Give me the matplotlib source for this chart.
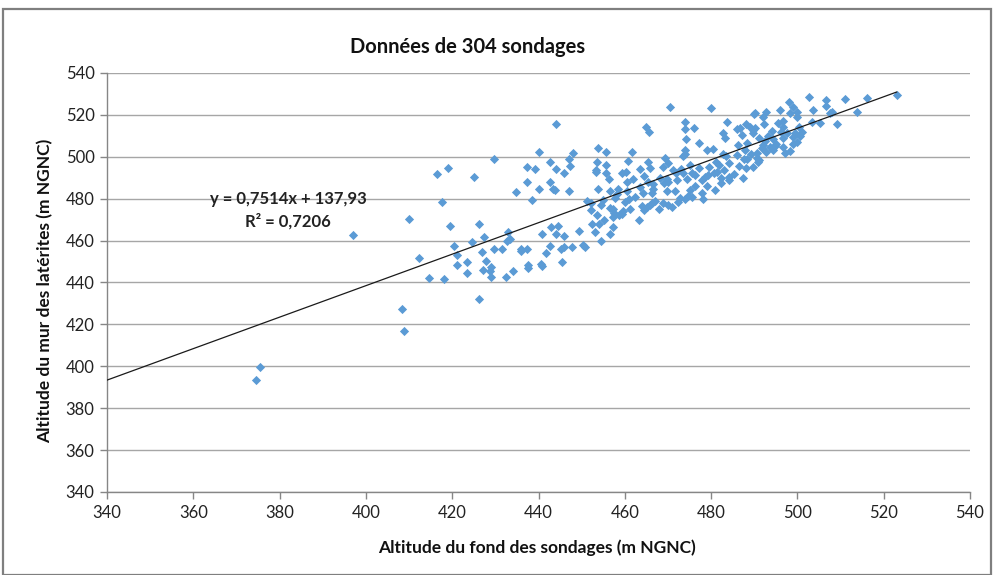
import matplotlib
matplotlib.use("Agg")
import matplotlib.pyplot as plt
from matplotlib.patches import Rectangle

plt.rcParams["font.family"] = ["Lato", "DejaVu Sans"]

# Borehole data: bottom altitude (x) vs laterite floor altitude (y), m NGNC
fond = [
    374.5, 375.5, 397.0, 408.3, 408.9, 410.1, 412.4, 414.7, 416.4, 417.6,
    418.2, 419.1, 419.6, 420.4, 421.2, 421.0, 423.4, 423.4, 424.7, 425.1,
    426.1, 426.3, 427.4, 427.0, 427.8, 427.2, 428.9, 428.8, 429.1, 429.7,
    429.8, 431.5, 432.4, 432.8, 433.4, 433.0, 434.2, 434.9, 435.9, 437.3,
    437.4, 437.4, 437.6, 437.6, 438.6, 439.2, 440.0, 440.2, 440.6, 440.9,
    440.7, 441.7, 442.6, 442.6, 442.6, 443.0, 443.3, 443.8, 444.0, 444.0,
    444.0, 444.6, 445.3, 445.4, 445.8, 446.0, 447.1, 447.1, 447.3, 447.8,
    448.1, 449.4, 450.8, 451.3, 452.2, 452.2, 452.5, 453.1, 453.5, 453.4,
    453.4, 453.5, 453.7, 453.9, 454.1, 454.6, 455.6, 455.6, 455.6, 455.0,
    456.4, 456.6, 456.6, 457.2, 457.2, 457.5, 457.7, 458.1, 458.5, 458.7,
    459.3, 459.5, 460.0, 460.2, 460.6, 460.6, 460.8, 461.7, 462.0, 463.5,
    463.5, 463.9, 464.3, 464.5, 464.5, 465.0, 465.7, 465.4, 465.3, 465.1,
    465.8, 465.8, 466.5, 466.6, 466.2, 468.2, 468.8, 468.8, 469.0, 469.3,
    469.7, 469.7, 470.1, 470.1, 470.1, 470.5, 470.9, 471.2, 471.6, 471.9,
    472.0, 472.8, 473.0, 473.5, 473.5, 474.0, 474.0, 474.0, 474.0, 474.0,
    474.2, 474.3, 475.1, 475.2, 475.5, 475.5, 476.1, 476.3, 477.3, 477.3,
    477.8, 477.8, 478.6, 479.0, 479.3, 479.6, 479.9, 480.5, 480.7, 481.2,
    481.4, 481.9, 482.2, 482.4, 482.7, 482.7, 483.2, 483.4, 483.6, 484.2,
    484.2, 484.2, 485.9, 486.3, 486.5, 486.7, 487.1, 487.3, 487.9, 488.2,
    488.2, 488.3, 489.0, 489.6, 489.8, 489.8, 490.0, 490.2, 490.2, 490.6,
    490.6, 490.9, 491.0, 491.7, 492.1, 492.1, 492.3, 492.5, 492.7, 492.7,
    493.7, 494.0, 494.4, 494.4, 495.6, 495.9, 496.3, 496.6, 496.7, 496.7,
    496.7, 497.5, 498.1, 498.3, 499.0, 499.0, 499.0, 499.4, 499.8, 499.8,
    499.8, 502.8, 503.3, 503.7, 505.2, 506.6, 506.6, 507.5, 508.0, 509.2,
    511.0, 513.9, 516.1, 523.0, 457.3, 459.3, 454.6, 456.6, 446.0, 436.0,
    461.2, 462.4, 467.0, 476.2, 478.2, 479.1, 481.0, 485.2, 486.0, 488.4,
    491.2, 493.2, 495.1, 497.2, 500.3, 501.0, 498.2, 466.2, 463.2, 468.0,
    472.4, 474.6, 483.0, 487.6, 489.2, 494.8, 500.6, 450.2, 455.2, 461.0,
]
mur = [
    393.5, 399.5, 462.5, 427.5, 417.0, 470.3, 451.8, 442.0, 491.8, 478.6,
    441.7, 494.5, 467.0, 457.4, 453.3, 448.4, 449.6, 444.7, 459.5, 490.2,
    432.3, 467.9, 461.9, 454.4, 450.3, 446.0, 447.3, 445.5, 442.5, 456.0,
    499.0, 456.0, 442.5, 460.0, 460.6, 464.3, 445.5, 483.3, 456.0, 456.0,
    495.0, 488.1, 448.4, 446.8, 479.2, 494.3, 502.4, 484.6, 448.7, 447.7,
    463.2, 453.9, 457.6, 497.7, 488.1, 466.3, 484.6, 484.2, 515.5, 494.3,
    463.2, 467.0, 456.0, 449.6, 492.3, 462.2, 498.8, 483.5, 495.6, 456.8,
    501.7, 464.7, 456.8, 479.1, 477.8, 474.6, 467.8, 464.3, 472.1, 493.7,
    492.6, 497.7, 504.1, 484.6, 467.9, 460.0, 502.1, 496.1, 492.4, 479.4,
    489.4, 483.8, 463.0, 466.3, 474.9, 473.0, 480.2, 482.2, 484.6, 472.2,
    492.1, 474.1, 478.6, 492.6, 483.8, 488.1, 498.1, 502.1, 489.3, 494.2,
    485.7, 476.5, 482.9, 490.8, 474.6, 514.1, 512.0, 488.1, 497.7, 476.2,
    477.0, 494.5, 487.0, 484.5, 482.6, 489.7, 495.3, 477.8, 487.3, 499.3,
    489.3, 483.8, 497.2, 488.1, 477.0, 523.9, 476.2, 493.7, 483.8, 492.1,
    488.9, 480.2, 494.0, 500.4, 492.1, 516.5, 513.3, 503.2, 501.2, 479.7,
    508.3, 489.3, 484.2, 496.1, 492.4, 481.0, 513.9, 491.3, 506.7, 494.8,
    488.9, 482.6, 490.2, 503.2, 491.3, 495.3, 523.1, 503.6, 492.1, 497.7,
    492.9, 496.1, 490.0, 487.3, 511.5, 501.3, 508.8, 500.4, 516.8, 497.2,
    490.5, 489.0, 513.1, 505.6, 495.6, 513.9, 510.4, 489.7, 503.2, 515.5,
    494.5, 506.4, 514.4, 511.2, 512.8, 495.0, 520.4, 513.9, 520.8, 501.7,
    499.3, 497.7, 498.5, 504.1, 519.2, 505.6, 515.7, 507.7, 521.6, 502.4,
    504.8, 512.5, 508.3, 503.2, 516.0, 522.3, 512.0, 508.8, 517.1, 514.4,
    504.8, 511.5, 526.3, 520.8, 524.0, 509.6, 506.1, 511.5, 521.6, 518.8,
    507.2, 528.4, 516.8, 522.3, 516.0, 527.1, 524.2, 520.8, 521.6, 515.5,
    527.4, 521.6, 527.9, 529.5, 471.4, 472.7, 477.0, 475.4, 457.0, 455.0,
    475.0, 481.0, 479.0, 486.0, 480.0, 486.0, 484.0, 492.0, 501.0, 499.0,
    509.0, 510.0, 506.0, 502.0, 514.0, 512.0, 503.0, 478.0, 470.0, 475.0,
    478.5, 481.5, 493.5, 499.0, 501.5, 505.0, 510.0, 458.0, 470.0, 480.0,
]

# Linear trend reported on the chart
slope = 0.7514
intercept = 137.93
r2 = 0.7206

x_ticks = [340, 360, 380, 400, 420, 440, 460, 480, 500, 520, 540]
y_ticks = [340, 360, 380, 400, 420, 440, 460, 480, 500, 520, 540]

W, H = 993, 575
fig = plt.figure(figsize=(W / 100, H / 100), dpi=100)
fig.patch.set_facecolor("white")

# chart frame
fig.patches.append(Rectangle((3 / W, 0), (W - 5) / W, (H - 9) / H,
                             transform=fig.transFigure, fill=False,
                             edgecolor="#7f7f7f", linewidth=1.6, zorder=0))

ax = fig.add_axes([107 / W, (H - 492) / H, 863 / W, 419 / H])
ax.set_xlim(340, 540)
ax.set_ylim(340, 540)
ax.set_xticks(x_ticks)
ax.set_yticks(y_ticks)
ax.yaxis.grid(True, color="#a6a6a6", linewidth=1.0)
ax.set_axisbelow(True)
for side in ("top", "right"):
    ax.spines[side].set_visible(False)
for side in ("left", "bottom"):
    ax.spines[side].set_color("#868686")
    ax.spines[side].set_linewidth(1.0)
ax.tick_params(axis="both", direction="out", length=5, width=1,
               color="#868686", labelsize=12, labelcolor="#222222", pad=4)

ax.scatter(fond, mur, marker="D", s=22, color="#5b9bd5", linewidths=0,
           zorder=3)

x0, x1 = 340, max(fond)
ax.plot([x0, x1], [slope * x0 + intercept, slope * x1 + intercept],
        color="#1a1a1a", linewidth=0.9, zorder=4)

eq = "y = {}x + {}".format(f"{slope:.4f}".replace(".", ","),
                          f"{intercept:.2f}".replace(".", ","))
fig.text(288 / W, 1 - 199 / H, eq, ha="center", va="center",
         fontsize=12, fontweight="bold", color="#222222")
fig.text(288 / W, 1 - 221 / H, "R² = " + f"{r2:.4f}".replace(".", ","),
         ha="center", va="center", fontsize=12, fontweight="bold",
         color="#222222")

fig.text(468 / W, 1 - 47 / H, "Données de 304 sondages", ha="center",
         va="center", fontsize=14.5, fontweight="bold", color="#111111")
fig.text(537 / W, 1 - 548 / H, "Altitude du fond des sondages (m NGNC)",
         ha="center", va="center", fontsize=12.5, fontweight="bold",
         color="#111111")
fig.text(45 / W, 1 - 291 / H, "Altitude du mur des latérites (m NGNC)",
         ha="center", va="center", rotation=90, fontsize=12.5,
         fontweight="bold", color="#111111")

fig.savefig("out.png", dpi=100)
